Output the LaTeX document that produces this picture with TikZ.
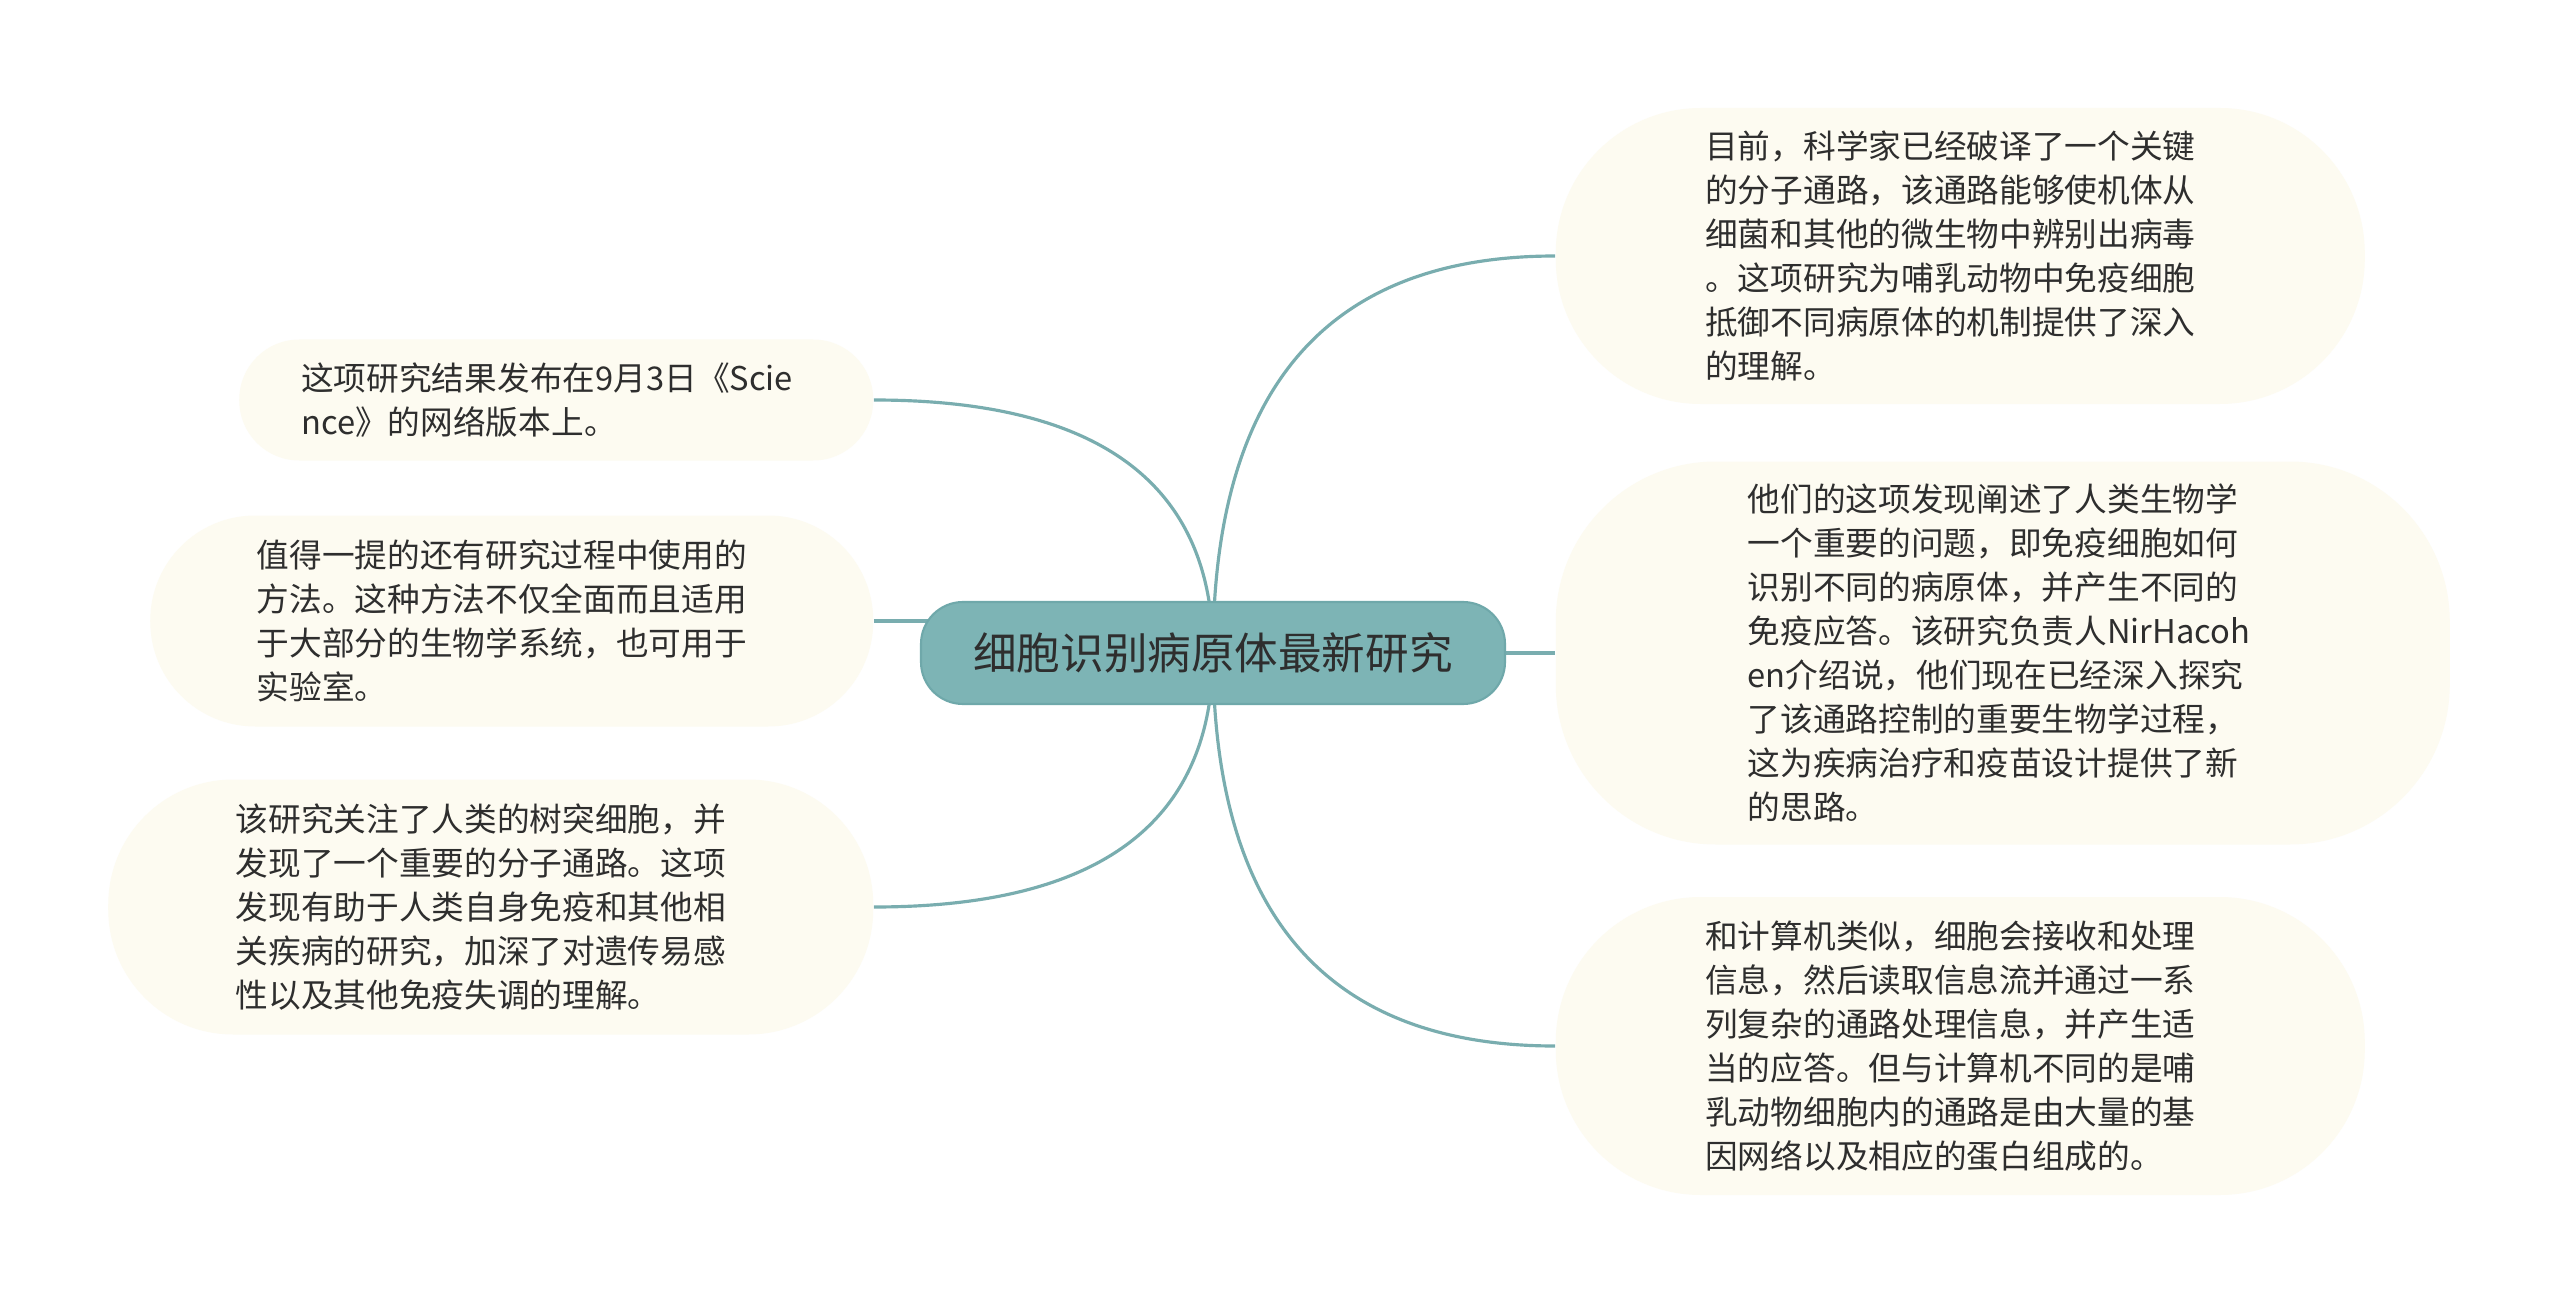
\documentclass[tikz,border=0pt]{standalone}
\usepackage{fontspec}
\newfontfamily\cjk{Noto Sans CJK SC}
\usepackage{xcolor}
\usepackage{tikz}
\usetikzlibrary{positioning, backgrounds, calc}
\definecolor{topicfill}{HTML}{7DB4B5}
\definecolor{topicline}{HTML}{6FA8AA}
\definecolor{branchcol}{HTML}{79ADAF}
\definecolor{leaffill}{HTML}{FDFBF1}
\definecolor{ink}{HTML}{2E2E2E}
\tikzstyle{topic} = [rectangle, rounded corners=0.42cm, minimum width=5.84cm, minimum height=1.02cm, text centered, draw=topicline, line width=0.6pt, fill=topicfill, text=ink, font=\cjk\fontsize{12.4pt}{15pt}\selectfont]
\tikzstyle{leaf} = [rectangle, fill=leaffill, text=ink, text width=5.1cm, align=left, inner sep=0pt, font=\cjk\fontsize{9.3pt}{12.5pt}\selectfont]
\tikzstyle{branch} = [draw=branchcol, line width=0.9pt]

\begin{document}
\begin{tikzpicture}
    \useasboundingbox (0,0) rectangle (25.6,-13.05);

    % Central topic
    \node[topic] (root) at (12.13,-6.53) {细胞识别病原体最新研究};

    % Left side
    \node[leaf, rounded corners=0.6cm, minimum width=6.34cm, minimum height=1.21cm, left=0.46cm of root.west, yshift=2.53cm] (publish) {这项研究结果发布在9月3日《Scie\\nce》的网络版本上。};
    \node[leaf, rounded corners=1.05cm, minimum width=7.23cm, minimum height=2.11cm, left=0.46cm of root.west, yshift=0.32cm] (method) {值得一提的还有研究过程中使用的\\方法。这种方法不仅全面而且适用\\于大部分的生物学系统，也可用于\\实验室。};
    \node[leaf, rounded corners=1.25cm, minimum width=7.65cm, minimum height=2.55cm, left=0.46cm of root.west, yshift=-2.54cm] (dendritic) {该研究关注了人类的树突细胞，并\\发现了一个重要的分子通路。这项\\发现有助于人类自身免疫和其他相\\关疾病的研究，加深了对遗传易感\\性以及其他免疫失调的理解。};

    % Right side
    \node[leaf, rounded corners=1.45cm, minimum width=8.09cm, minimum height=2.96cm, right=0.49cm of root.east, yshift=3.97cm] (pathway) {目前，科学家已经破译了一个关键\\的分子通路，该通路能够使机体从\\细菌和其他的微生物中辨别出病毒\\。这项研究为哺乳动物中免疫细胞\\抵御不同病原体的机制提供了深入\\的理解。};
    \node[leaf, rounded corners=1.6cm, minimum width=8.94cm, minimum height=3.83cm, right=0.49cm of root.east] (hacohen) {他们的这项发现阐述了人类生物学\\一个重要的问题，即免疫细胞如何\\识别不同的病原体，并产生不同的\\免疫应答。该研究负责人NirHacoh\\en介绍说，他们现在已经深入探究\\了该通路控制的重要生物学过程，\\这为疾病治疗和疫苗设计提供了新\\的思路。};
    \node[leaf, rounded corners=1.45cm, minimum width=8.09cm, minimum height=2.98cm, right=0.49cm of root.east, yshift=-3.93cm] (computer) {和计算机类似，细胞会接收和处理\\信息，然后读取信息流并通过一系\\列复杂的通路处理信息，并产生适\\当的应答。但与计算机不同的是哺\\乳动物细胞内的通路是由大量的基\\因网络以及相应的蛋白组成的。};

    % Connections
    \begin{scope}[on background layer]
        \fill[white] (0,0) rectangle (25.6,-13.05);
        \draw[branch] (root.center) .. controls ($(root.center)!2/3!(root.center |- publish.east)$) and ($(publish.east)!2/3!(root.center |- publish.east)$) .. (publish.east);
        \draw[branch] (method.east) -- (method.east -| root.center);
        \draw[branch] (root.center) .. controls ($(root.center)!2/3!(root.center |- dendritic.east)$) and ($(dendritic.east)!2/3!(root.center |- dendritic.east)$) .. (dendritic.east);
        \draw[branch] (root.center) .. controls ($(root.center)!2/3!(root.center |- pathway.west)$) and ($(pathway.west)!2/3!(root.center |- pathway.west)$) .. (pathway.west);
        \draw[branch] (root.center) -- (root.center |- hacohen.west) -- (hacohen.west);
        \draw[branch] (root.center) .. controls ($(root.center)!2/3!(root.center |- computer.west)$) and ($(computer.west)!2/3!(root.center |- computer.west)$) .. (computer.west);
    \end{scope}

\end{tikzpicture}
\end{document}
